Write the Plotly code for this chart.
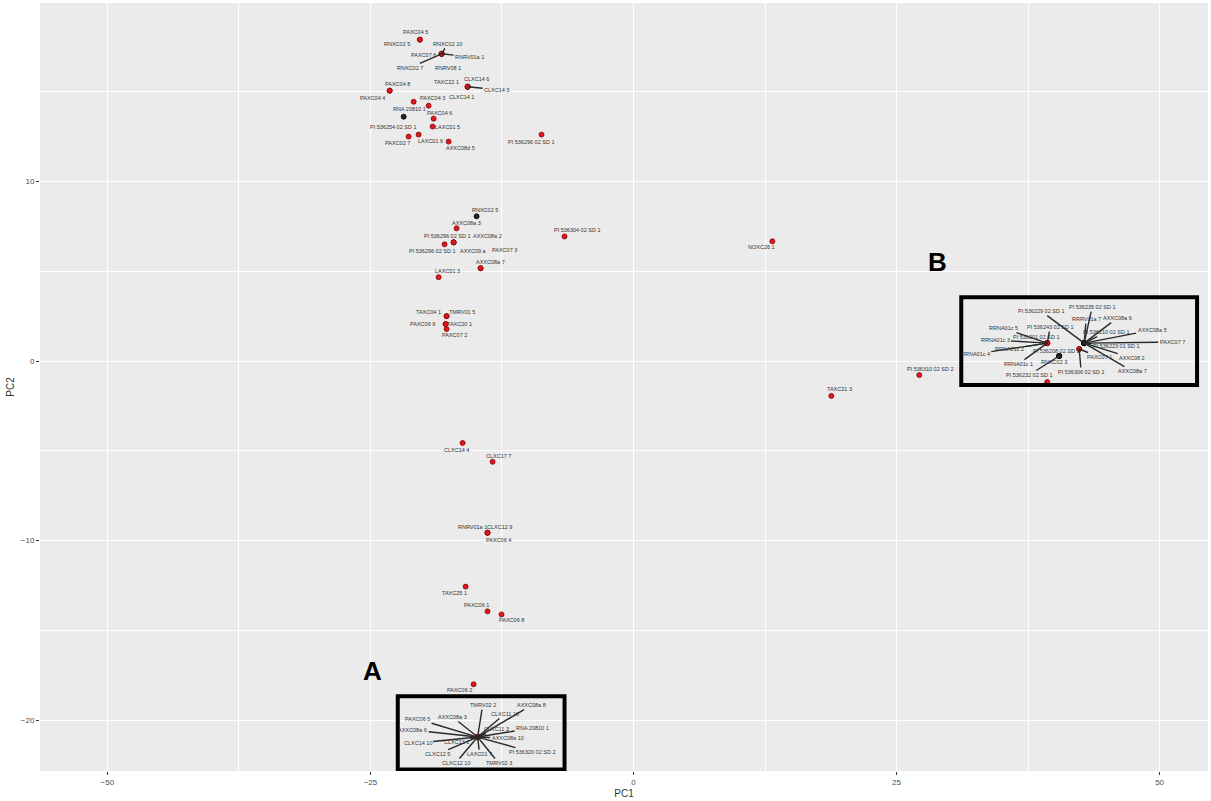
import plotly.graph_objects as go

# ---------------- data ----------------
samples = [
    "PAXC04 5", "RNXC02 5", "RNXC02 10", "PAXC07 6", "RNRV01a 1", "RNXC02 7", "RNRV08 1",
    "TAXC22 1", "CLXC14 6", "CLXC14 3", "CLXC14 1", "PAXC04 8", "PAXC04 4", "RNA 20810 1",
    "PAXC04 3", "PI 536254 02 SD 1", "PAXC04 6", "LAXC01 5", "PAXC02 7", "LAXC01 6",
    "AXXC08d 5", "PI 536296 02 SD 1",
    "RNXC02 5", "AXXC08a 3", "PI 536296 02 SD 1", "PI 536296 02 SD 1", "AXXC08a 2",
    "AXXC09 a", "PAXC07 3", "PI 536304 02 SD 1", "AXXC08a 7", "LAXC01 3", "TAXC04 1",
    "TMRV01 5", "PAXC06 9", "TAXC20 1", "PAXC07 2",
    "NOXC26 1", "TAXC21 3", "PI 536310 02 SD 2",
    "CLXC14 4", "CLXC17 7", "RNRV01a 1", "CLXC12 9", "PAXC06 4", "TAXC25 1", "PAXC06 1",
    "PAXC06 8", "PAXC06 2",
    # cluster A
    "TMRV02 2", "AXXC08a 8", "CLXC11 10", "AXXC08a 3", "PAXC06 5", "AXXC08a 6", "RNA 20810 1",
    "CLXC11 3", "AXXC08a 10", "CLXC14 10", "CLXC13 1", "PI 536320 02 SD 2", "CLXC12 5",
    "LAXC01 7", "CLXC12 10", "TMRV02 3",
    # cluster B
    "RRNA01c 5", "RRNA01c 3", "RRNA01c 4", "RRNA01c 2", "RRNA01c 1", "PI 536243 02 SD 1",
    "PI 536201 02 SD 1",
    "PI 536235 02 SD 1", "RRRV01a 7", "AXXC08a 6", "AXXC08a 5", "PI 536210 02 SD 1",
    "PAXC07 7", "PI 536223 01 SD 1", "AXXC08 2", "AXXC08a 7", "PI 536229 02 SD 1",
    "PAXC07 1", "PI 536306 02 SD 1",
    "RNXC02 3", "PI 536208 02 SD 1", "PI 536232 02 SD 1",
    "PI 536250 02 SD 1",
]

pc1 = [
    -20.3, -20.3, -18.23, -18.23, -18.23, -18.23, -18.23,
    -15.76, -15.76, -15.76, -15.76, -23.17, -23.17, -20.89,
    -19.47, -21.84, -18.99, -19.09, -21.37, -20.42,
    -17.57, -8.74,
    -14.91, -16.81, -17.09, -17.95, -17.09,
    -17.09, -14.53, -6.55, -14.53, -18.52, -17.76,
    -17.76, -17.85, -17.85, -17.76,
    13.2, 18.8, 27.16,
    -16.24, -13.39, -13.87, -13.87, -13.87, -15.95, -13.87,
    -12.54, -15.19,
    -14.81, -14.81, -14.81, -14.81, -14.81, -14.81, -14.81,
    -14.81, -14.81, -14.81, -14.81, -14.81, -14.81,
    -14.81, -14.81, -14.81,
    39.32, 39.32, 39.32, 39.32, 39.32, 39.32,
    39.32,
    42.83, 42.83, 42.83, 42.83, 42.83,
    42.83, 42.83, 42.83, 42.83, 42.83,
    42.36, 42.36,
    40.46, 40.46, 40.46,
    39.32,
]

pc2 = [
    17.9, 17.9, 17.11, 17.11, 17.11, 17.11, 17.11,
    15.28, 15.28, 15.28, 15.28, 15.06, 15.06, 14.44,
    14.22, 13.61, 13.5, 13.06, 12.5, 12.61,
    12.22, 12.61,
    8.06, 7.39, 6.61, 6.5, 6.61,
    6.61, 5.17, 6.94, 5.17, 4.67, 2.5,
    2.5, 2.06, 2.06, 1.78,
    6.67, -1.94, -0.78,
    -4.56, -5.61, -9.56, -9.56, -9.56, -12.56, -13.94,
    -14.11, -18.0,
    -20.94, -20.94, -20.94, -20.94, -20.94, -20.94, -20.94,
    -20.94, -20.94, -20.94, -20.94, -20.94, -20.94,
    -20.94, -20.94, -20.94,
    1.0, 1.0, 1.0, 1.0, 1.0, 1.0,
    1.0,
    1.0, 1.0, 1.0, 1.0, 1.0,
    1.0, 1.0, 1.0, 1.0, 1.0,
    0.67, 0.67,
    0.28, 0.28, 0.28,
    -1.17,
]

# sample group: "a" (red) or "b" (dark)
group = ["a"] * len(samples)
for i in (15, 22):
    group[i] = "b"
for i in range(72, 82):
    group[i] = "b"
for i in range(84, 87):
    group[i] = "b"

# ---------------- label layout (repel offsets, in pixels) ----------------
label_dx = [
    -4, -23, 6, -18, 28, -32, 6,
    -21, 9, 29, -6, 8, -17, -4,
    4, -11, 6, 15, -11, 12,
    12, -11,
    8, 10, -7, -13, 34,
    20, 24, 12, 10, 9, -18,
    15, -23, 14, 8,
    -11, 8, 11,
    -6, 6, -15, 12, 11, -11, -11,
    10, -14,
    5, 54, 27, -25, -60, -65, 55,
    19, 30, -60, -21, 54, -40,
    2, -22, 21,
    -44, -52, -72, -38, -29, 3,
    -11,
    8, 2, 33, 68, 22,
    88, 32, 48, 48, -43,
    20, 2,
    -5, -3, -30,
    12,
]
label_dy = [
    -8, 4, -10, 1, 3, 14, 14,
    -5, -8, 3, 10, -7, 7, 7,
    -8, 10, -6, 0, 6, 6,
    6, 7,
    -6, -5, -6, 7, -6,
    9, -18, -6, -6, -6, -4,
    -4, 0, 0, 6,
    6, -7, -6,
    7, -6, -6, -6, 7, 6, -6,
    6, 6,
    -32, -32, -23, -20, -18, -7, -9,
    -8, 1, 6, 5, 15, 17,
    17, 26, 26,
    -15, -3, 11, 6, 21, -16,
    -6,
    -36, -24, -25, -13, -11,
    -1, 3, 15, 28, -32,
    8, 23,
    6, -5, 19,
    7,
]
segment = [False, False, True, False, True, True, False,
           False, False, True, False, False, False, False,
           False, False, False, False, False, False,
           False, False,
           False, False, False, False, False,
           False, False, False, False, False, False,
           False, False, False, False,
           False, False, False,
           False, False, False, False, False, False, False,
           False, False] + [True] * 16 + [True] * 22

colors = {"a": "#E8141B", "b": "#222222"}
edge = {"a": "#7A0B0B", "b": "#000000"}

fig = go.Figure()
fig.add_trace(go.Scatter(
    x=pc1, y=pc2, mode="markers",
    marker=dict(size=5, color=[colors[g] for g in group],
                line=dict(color=[edge[g] for g in group], width=0.8)),
    hovertext=samples, showlegend=False,
))

for name, x, y, dx, dy, seg in zip(samples, pc1, pc2, label_dx, label_dy, segment):
    fig.add_annotation(
        x=x, y=y, text=name, showarrow=True, ax=dx, ay=dy, axref="pixel", ayref="pixel",
        arrowhead=0, arrowwidth=1.4,
        arrowcolor="#2a2a2a" if seg else "rgba(0,0,0,0)",
        font=dict(size=5.5, color="#333333", family="Liberation Sans"),
        standoff=0, startstandoff=0,
    )

# highlight boxes
fig.add_shape(type="rect", x0=-22.4, x1=-6.55, y0=-22.75, y1=-18.67,
              line=dict(color="black", width=4), fillcolor="rgba(0,0,0,0)")
fig.add_shape(type="rect", x0=31.15, x1=53.56, y0=-1.33, y1=3.56,
              line=dict(color="black", width=4), fillcolor="rgba(0,0,0,0)")
fig.add_annotation(x=-24.79, y=-17.28, text="<b>A</b>", showarrow=False,
                   font=dict(size=26, color="black", family="Liberation Sans"))
fig.add_annotation(x=28.87, y=5.5, text="<b>B</b>", showarrow=False,
                   font=dict(size=26, color="black", family="Liberation Sans"))

axis_common = dict(
    showgrid=True, gridcolor="white", gridwidth=1.1, zeroline=False,
    ticks="outside", ticklen=3, tickcolor="#333333",
    tickfont=dict(size=8, color="#4D4D4D", family="Liberation Sans"),
    showline=False,
)
fig.update_xaxes(range=[-56.4, 54.6], tickvals=[-50, -25, 0, 25, 50],
                 minor=dict(dtick=12.5, tick0=0, showgrid=True, gridcolor="white", gridwidth=0.5),
                 title=dict(text="PC1", font=dict(size=10, color="#333333", family="Liberation Sans"),
                            standoff=4),
                 **axis_common)
fig.update_yaxes(range=[-22.83, 19.94], tickvals=[-20, -10, 0, 10],
                 minor=dict(dtick=5, tick0=0, showgrid=True, gridcolor="white", gridwidth=0.5),
                 title=dict(text="PC2", font=dict(size=10, color="#333333", family="Liberation Sans"),
                            standoff=4),
                 **axis_common)

fig.update_layout(
    width=1211, height=801,
    margin=dict(l=40, r=3, t=3, b=28),
    plot_bgcolor="#EBEBEB", paper_bgcolor="white",
    font=dict(family="Liberation Sans"),
)

fig.write_html("out.html")
